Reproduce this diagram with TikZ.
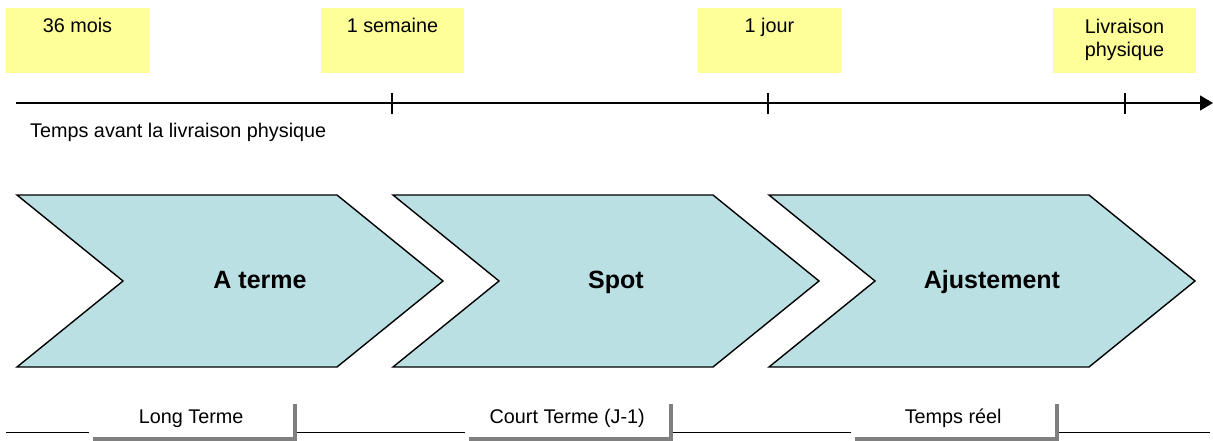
\documentclass[tikz,border=0pt]{standalone}
\usepackage{fontspec}
\setmainfont{Liberation Sans}
\usetikzlibrary{arrows.meta}
\definecolor{yel}{RGB}{255,255,153}
\definecolor{cyanfill}{RGB}{187,224,227}
\definecolor{shad}{RGB}{128,128,128}
\begin{document}
\begin{tikzpicture}[x=1pt,y=-1pt,
  ybox/.style={fill=yel,draw=none,minimum width=143pt,minimum height=65pt,inner sep=0pt,anchor=north west},
  ytext/.style={font=\fontsize{19.8}{22.5}\selectfont,inner sep=0pt,anchor=base},
  chev/.style={fill=cyanfill,draw=black,line width=1.4pt,line join=miter},
  chevtext/.style={font=\fontsize{25}{30}\selectfont\bfseries,inner sep=0pt,anchor=base},
  wbox/.style={fill=white,draw=none,minimum width=204pt,minimum height=37pt,inner sep=0pt,anchor=north west,
    font=\fontsize{19.8}{22}\selectfont},
  tick/.style={line width=1.4pt},
]
\useasboundingbox (0,0) rectangle (1213,441);

% yellow boxes
\node[ybox] (y1) at (6,8) {};
\node[ybox] (y2) at (321,8) {};
\node[ybox] (y3) at (698,8) {};
\node[ybox] (y4) at (1053,8) {};
\node[ytext] (t1) at (77.5,33) {36 mois};
\node[ytext] (t2) at (392.5,33) {1 semaine};
\node[ytext] (t3) at (769.5,33) {1 jour};
\node[ytext] (t4) at (1124.5,34) {\setlength{\tabcolsep}{0pt}\begin{tabular}[t]{c}Livraison\\physique\end{tabular}};

% time axis
\coordinate (axL) at (16,103);
\coordinate (axR) at (1213,103);
\draw[line width=1.4pt,-{Triangle[length=13pt,width=15pt]}] (axL) -- (axR);
\foreach \x/\n in {392/k1,768/k2,1125/k3}{
  \coordinate (\n a) at (\x,93);
  \coordinate (\n b) at (\x,114);
  \draw[tick] (\n a) -- (\n b);
}
\node[font=\fontsize{19.8}{22}\selectfont,inner sep=0pt,anchor=base west] (axlab) at (30,138) {Temps avant la livraison physique};

% chevrons
\foreach \x/\n in {17/c1,393/c2,769/c3}{
  \draw[chev] (\x,195) -- (\x+320,195) -- (\x+426,281) -- (\x+320,367) -- (\x,367) -- (\x+106,281) -- cycle;
}
\node[chevtext] (a1) at (260,288) {A terme};
\node[chevtext] (a2) at (616,288) {Spot};
\node[chevtext] (a3) at (992,288) {Ajustement};

% bottom line and boxes
\coordinate (bL) at (6,432);
\coordinate (bR) at (1210,432);
\draw[line width=0.9pt] (bL) -- (bR);
\foreach \x/\w/\n/\t in {89/204/b1/Long Terme,465/204/b2/Court Terme (J-1),851/204/b3/Temps réel}{
  \fill[shad] (\x+4,404) rectangle (\x+\w+4,441);
  \node[wbox,minimum width=\w pt] (\n) at (\x,400) {\raisebox{-1pt}{\t}};
}
\end{tikzpicture}
\end{document}
